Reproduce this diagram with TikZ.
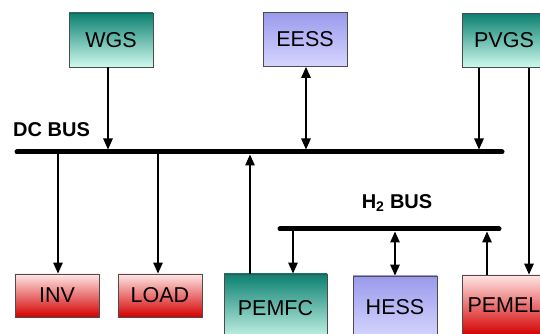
\documentclass[tikz,border=0pt]{standalone}
\usepackage{fontspec}
\setmainfont{Liberation Sans}
\usetikzlibrary{arrows.meta}
\definecolor{tealA}{HTML}{0B8070}
\definecolor{tealB}{HTML}{22AD9C}
\definecolor{tealC}{HTML}{CFFAEE}
\definecolor{lavA}{HTML}{9A9AEC}
\definecolor{lavB}{HTML}{B2B2F8}
\definecolor{lavC}{HTML}{D6D6FF}
\definecolor{redA}{HTML}{FFE6E6}
\definecolor{redB}{HTML}{FF5050}
\definecolor{redC}{HTML}{D40000}
\begin{document}
\begin{tikzpicture}[x=1pt,y=1pt,
  box/.style={draw=black!70, line width=0.9pt, minimum width=84pt, minimum height=54pt,
    inner sep=0pt, font=\fontsize{21.5}{24}\selectfont},
  tealbox/.style={box, top color=tealA, middle color=tealB, bottom color=tealC},
  lavbox/.style={box, top color=lavA, middle color=lavB, bottom color=lavC},
  redbox/.style={box, top color=redA, middle color=redB, bottom color=redC},
  bus/.style={line width=5pt, line cap=round},
  arr/.style={line width=1.4pt, -{Triangle[length=11pt,width=9.5pt]}},
  darr/.style={line width=1.4pt, {Triangle[length=11pt,width=9.5pt]}-{Triangle[length=11pt,width=9.5pt]}},
  lbl/.style={font=\bfseries\fontsize{20}{22}\selectfont, inner sep=0pt}]
\useasboundingbox (0,0) rectangle (540,334);
\clip (0,0) rectangle (540,334);
\fill[white] (0,0) rectangle (540,334);

% top row
\node[tealbox] (wgs) at (111,294) {WGS};
\node[lavbox] (eess) at (305,294.5) {EESS};
\node[tealbox] (pvgs) at (504,293.5) {PVGS};

% bottom row
\node[redbox, minimum height=43pt] (inv) at (57,38.5) {INV};
\node[redbox, minimum height=43pt] (load) at (160,38.5) {LOAD};
\node[tealbox, minimum width=103pt, minimum height=68pt] (pemfc) at (275.5,26) {PEMFC};
\node[lavbox, minimum height=62pt] (hess) at (395,27) {HESS};
\node[redbox, minimum height=60pt] (pemel) at (504,29) {PEMEL};

% buses
\coordinate (dcL) at (17,182);
\coordinate (dcR) at (502,182);
\coordinate (hL) at (280,105);
\coordinate (hR) at (499,105);
\draw[bus] (dcL) -- (dcR);
\draw[bus] (hL) -- (hR);
\node[lbl, anchor=west] (dclbl) at (13,204) {DC BUS};
\node[lbl] (h2lbl) at (397,131) {H\textsubscript{2} BUS};

% connectors to DC bus
\draw[arr, shorten >=2.5pt] ([xshift=-3pt]wgs.south) -- ([xshift=-3pt]wgs.south |- dcL);
\draw[darr, shorten >=2.5pt] ([xshift=1pt]eess.south) -- ([xshift=1pt]eess.south |- dcL);
\draw[arr, shorten >=2.5pt] ([xshift=-25pt]pvgs.south) -- ([xshift=-25pt]pvgs.south |- dcL);
\draw[arr] ([xshift=25pt]pvgs.south) -- ([xshift=25pt]pemel.north);
\draw[arr, shorten <=2.5pt] ([xshift=1pt]inv.north |- dcL) -- ([xshift=1pt]inv.north);
\draw[arr, shorten <=2.5pt] ([xshift=-2pt]load.north |- dcL) -- ([xshift=-2pt]load.north);
\draw[arr, shorten >=2.5pt] ([xshift=-25.5pt]pemfc.north) -- ([xshift=-25.5pt]pemfc.north |- dcL);

% connectors to H2 bus
\draw[arr, shorten <=2.5pt] ([xshift=17.5pt]pemfc.north |- hL) -- ([xshift=17.5pt]pemfc.north);
\draw[darr, shorten <=2.5pt] (hess.north |- hL) -- (hess.north);
\draw[arr, shorten >=2.5pt] ([xshift=-17pt]pemel.north) -- ([xshift=-17pt]pemel.north |- hL);
\end{tikzpicture}
\end{document}
